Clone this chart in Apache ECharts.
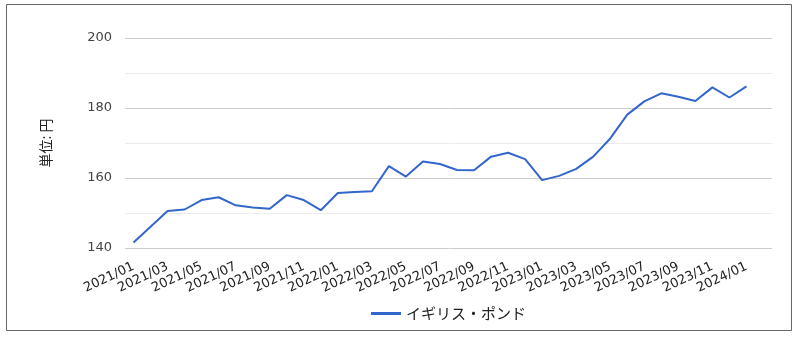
<!DOCTYPE html>
<html>
<head>
<meta charset="utf-8">
<script src="https://cdn.jsdelivr.net/npm/echarts@6/dist/echarts.min.js"></script>
<style>
html,body{margin:0;padding:0;background:#fff;}
#chart{width:799px;height:337px;}
</style>
</head>
<body>
<div id="chart"></div>
<script>
// Months (one trailing empty slot so the last point sits inside the grid as in the reference)
const categories = [
  '2021/01','2021/02','2021/03','2021/04','2021/05','2021/06','2021/07','2021/08','2021/09','2021/10','2021/11','2021/12',
  '2022/01','2022/02','2022/03','2022/04','2022/05','2022/06','2022/07','2022/08','2022/09','2022/10','2022/11','2022/12',
  '2023/01','2023/02','2023/03','2023/04','2023/05','2023/06','2023/07','2023/08','2023/09','2023/10','2023/11','2023/12',
  '2024/01','2024/02'
];
const hiddenCategory = '2024/02';
const seriesName = 'イギリス・ポンド';
const gbpValues = [
  141.6,146.1,150.6,151.0,153.7,154.5,152.2,151.6,151.2,155.1,153.7,150.8,
  155.7,156.0,156.2,163.4,160.4,164.7,164.0,162.3,162.2,166.1,167.2,165.4,
  159.4,160.6,162.6,166.1,171.3,178.1,181.9,184.2,183.2,182.0,185.9,183.0,
  186.2
];
const yName = '単位: 円';
const yMin = 140, yMax = 200, yStep = 20;

const chart = echarts.init(document.getElementById('chart'));
chart.setOption({
  animation: false,
  textStyle: { fontFamily: '"DejaVu Sans", "Noto Sans CJK JP", sans-serif' },
  graphic: [{
    type: 'rect',
    shape: { x: 6.5, y: 4.5, width: 785, height: 326 },
    style: { fill: 'none', stroke: '#666', lineWidth: 1 },
    silent: true
  }],
  grid: { left: 125, right: 27, top: 38, bottom: 89 },
  legend: {
    left: 366, top: 301,
    itemWidth: 30, itemHeight: 3, itemGap: 8,
    icon: 'rect',
    textStyle: { fontSize: 15, color: '#222', fontFamily: '"Noto Sans CJK JP", sans-serif' },
    data: [seriesName]
  },
  xAxis: {
    type: 'category',
    data: categories,
    boundaryGap: true,
    axisLine: { show: false },
    axisTick: { show: false },
    axisLabel: {
      interval: 1, rotate: 25, margin: 18, fontSize: 13, color: '#222',
      hideOverlap: false, showMinLabel: true, showMaxLabel: true,
      formatter: function (v) { return v === hiddenCategory ? '' : v; }
    }
  },
  yAxis: {
    type: 'value',
    min: yMin, max: yMax, interval: yStep,
    name: yName,
    nameLocation: 'middle',
    nameRotate: 90,
    nameGap: 72,
    nameTextStyle: { fontSize: 14, color: '#222', fontFamily: '"Noto Sans CJK JP", sans-serif' },
    axisLine: { show: false },
    axisTick: { show: false },
    axisLabel: { fontSize: 13, color: '#444', margin: 13 },
    splitLine: { lineStyle: { color: '#ccc', width: 1 } },
    minorTick: { show: false, splitNumber: 2 },
    minorSplitLine: { show: true, lineStyle: { color: '#ebebeb', width: 1 } }
  },
  series: [{
    name: seriesName,
    type: 'line',
    data: gbpValues,
    symbol: 'none',
    lineStyle: { color: '#3366cc', width: 2 },
    itemStyle: { color: '#3366cc' }
  }]
});
</script>
</body>
</html>
